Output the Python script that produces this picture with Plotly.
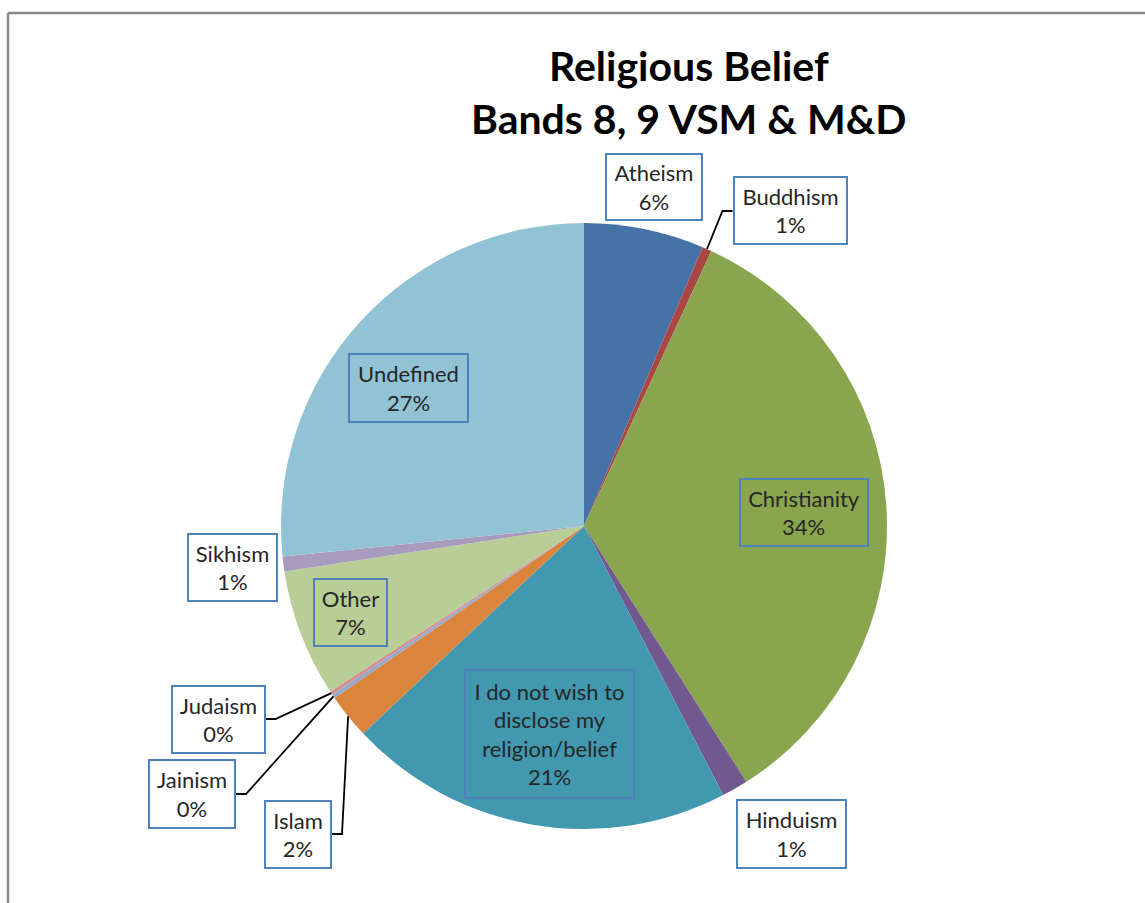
import math
import textwrap
import plotly.graph_objects as go

# ---- data -------------------------------------------------------------
categories = [
    "Atheism", "Buddhism", "Christianity", "Hinduism",
    "I do not wish to disclose my religion/belief",
    "Islam", "Jainism", "Judaism", "Other", "Sikhism", "Undefined",
]
shares = [6.4, 0.5, 34.1, 1.4, 20.6, 2.4, 0.2, 0.2, 6.8, 0.8, 26.6]
colors = [
    "#4572A7", "#AA4643", "#89A54E", "#71588F", "#4198AF",
    "#DB843D", "#93A9CF", "#D19392", "#B9CD96", "#A99BBD", "#92C3D4",
]
title_lines = ["Religious Belief", "Bands 8, 9 VSM & M&D"]

# ---- layout -----------------------------------------------------------
W, H = 1145, 903
CX, CY, R = 584, 526, 303          # pie centre / radius in px

# label box placement: centre x, centre y, box width, box height (px)
label_boxes = {
    "Atheism": (654, 187, 98, 68),
    "Buddhism": (790, 211, 115, 69),
    "Christianity": (804, 512, 130, 69),
    "Hinduism": (791, 834, 111, 70),
    "I do not wish to disclose my religion/belief": (549, 734, 171, 130),
    "Islam": (298, 834, 68, 69),
    "Jainism": (192, 794, 88, 70),
    "Judaism": (218, 719, 95, 69),
    "Other": (350, 612, 75, 69),
    "Sikhism": (232, 567, 91, 69),
    "Undefined": (408, 388, 121, 70),
}
# leader lines: which side of the box the connector attaches to
leaders = {"Buddhism": "left", "Islam": "right", "Jainism": "right", "Judaism": "right"}

FONT = "Lato"
TEXT = "#262626"
BOX = "#4F81BD"


def px(x):
    return x / W


def py(y):
    return 1 - y / H


def pct_text(v, total):
    return f"{int(v / total * 100 + 0.5)}%"


fig = go.Figure(
    go.Pie(
        labels=categories,
        values=shares,
        sort=False,
        direction="clockwise",
        rotation=0,
        marker=dict(colors=colors, line=dict(width=0)),
        textinfo="none",
        hoverinfo="label+percent",
        domain=dict(x=[px(CX - R), px(CX + R)], y=[py(CY + R), py(CY - R)]),
        showlegend=False,
    )
)

total = sum(shares)
annotations = []
shapes = []

# chart frame (top and left edges)
shapes.append(dict(type="line", xref="paper", yref="paper",
                   x0=px(8), y0=py(13), x1=px(W), y1=py(13),
                   line=dict(color="#878787", width=2.5)))
shapes.append(dict(type="line", xref="paper", yref="paper",
                   x0=px(8), y0=py(13), x1=px(8), y1=py(H),
                   line=dict(color="#878787", width=2.5)))

# title
annotations.append(dict(
    text="<b>" + "<br>".join(title_lines) + "</b>",
    xref="paper", yref="paper", x=px(689), y=py(92),
    xanchor="center", yanchor="middle", showarrow=False,
    font=dict(family=FONT, size=41, color="#000000"),
))

cum = 0.0
for name, v in zip(categories, shares):
    mid = (cum + v / 2) / total * 2 * math.pi
    cum += v
    bx, by, bw, bh = label_boxes[name]
    text = "<br>".join(textwrap.wrap(name, 16)) + "<br>" + pct_text(v, total)
    annotations.append(dict(
        text=text, xref="paper", yref="paper", x=px(bx), y=py(by),
        xanchor="center", yanchor="middle", showarrow=False,
        width=bw - 4, height=bh - 4, borderpad=0,
        bordercolor=BOX, borderwidth=2, bgcolor="rgba(0,0,0,0)",
        font=dict(family=FONT, size=22, color=TEXT), align="center",
    ))
    if name in leaders:
        # connector from slice edge to an elbow beside the label box
        ex, ey = CX + R * math.sin(mid), CY - R * math.cos(mid)
        if leaders[name] == "left":
            bxe = bx - bw / 2
            elx = bxe - 10
        else:
            bxe = bx + bw / 2
            elx = bxe + 10
        path = (f"M {px(ex)},{py(ey)} L {px(elx)},{py(by)} "
                f"L {px(bxe)},{py(by)}")
        shapes.append(dict(type="path", xref="paper", yref="paper", path=path,
                           line=dict(color="#000000", width=1.8)))

fig.update_layout(
    width=W, height=H,
    margin=dict(l=0, r=0, t=0, b=0),
    paper_bgcolor="white", plot_bgcolor="white",
    annotations=annotations, shapes=shapes,
)

fig.write_html("out.html")
